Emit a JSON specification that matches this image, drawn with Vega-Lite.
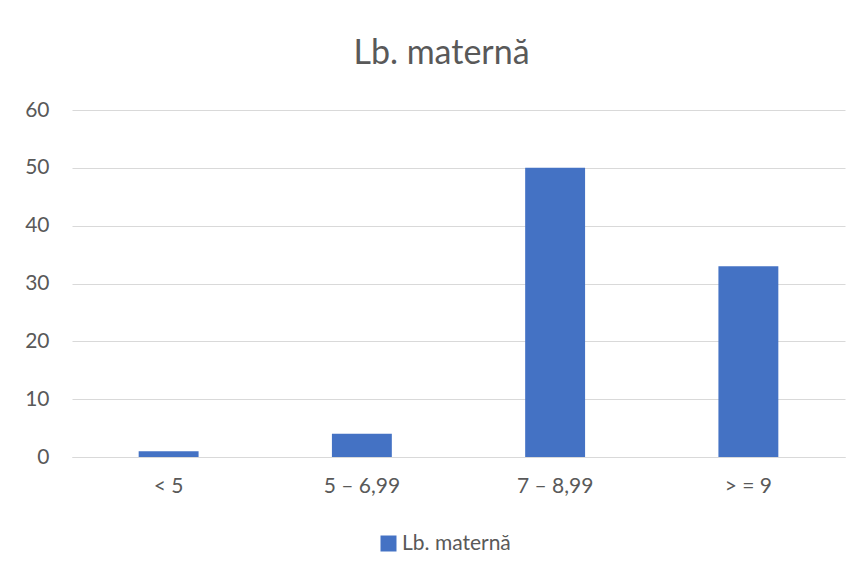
{
  "$schema": "https://vega.github.io/schema/vega-lite/v6.json",
  "width": 773,
  "height": 347,
  "autosize": {"type": "none"},
  "padding": {"left": 72, "top": 110, "right": 17, "bottom": 115},
  "background": "white",
  "title": {
    "text": "Lb. maternă",
    "font": "Lato",
    "fontSize": 34,
    "fontWeight": "normal",
    "color": "#595959",
    "anchor": "middle",
    "frame": "group",
    "dx": -17,
    "offset": 28
  },
  "data": {
    "values": [
      {"cat": "< 5", "value": 1, "series": "Lb. maternă"},
      {"cat": "5 – 6,99", "value": 4, "series": "Lb. maternă"},
      {"cat": "7 – 8,99", "value": 50, "series": "Lb. maternă"},
      {"cat": "> = 9", "value": 33, "series": "Lb. maternă"}
    ]
  },
  "mark": {"type": "bar"},
  "encoding": {
    "x": {
      "field": "cat",
      "type": "nominal",
      "sort": null,
      "scale": {"paddingInner": 0.69, "paddingOuter": 0.345},
      "axis": {
        "title": null,
        "labelAngle": 0,
        "ticks": false,
        "domainColor": "#D9D9D9",
        "domainWidth": 1,
        "labelFont": "Lato",
        "labelFontSize": 21,
        "labelColor": "#595959",
        "labelPadding": 18
      }
    },
    "y": {
      "field": "value",
      "type": "quantitative",
      "scale": {"domain": [0, 60]},
      "axis": {
        "title": null,
        "values": [0, 10, 20, 30, 40, 50, 60],
        "ticks": false,
        "domain": false,
        "gridColor": "#D9D9D9",
        "gridWidth": 1,
        "labelFont": "Lato",
        "labelFontSize": 21,
        "labelColor": "#595959",
        "labelPadding": 23
      }
    },
    "color": {
      "field": "series",
      "type": "nominal",
      "scale": {"range": ["#4472C4"]},
      "legend": {
        "title": null,
        "orient": "none",
        "legendX": 306,
        "legendY": 423,
        "symbolType": "square",
        "symbolSize": 256,
        "symbolStrokeWidth": 0,
        "labelFont": "Lato",
        "labelFontSize": 21,
        "labelColor": "#595959",
        "labelOffset": 3
      }
    }
  },
  "config": {"view": {"stroke": null}}
}
